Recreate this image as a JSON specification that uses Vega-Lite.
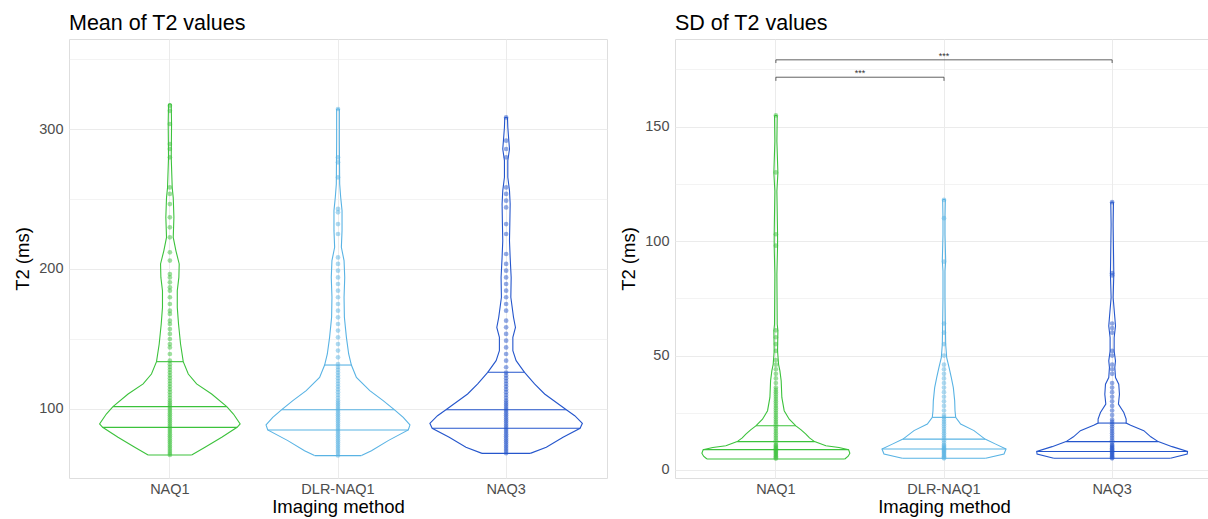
{
"$schema": "https://vega.github.io/schema/vega-lite/v6.json",
"background": "white",
"padding": {"left": 13, "top": 12, "right": 0, "bottom": 0},
"spacing": 11,
"config": {
 "font": "Liberation Sans",
 "view": {"stroke": "#dedede", "strokeWidth": 1},
 "axis": {"domain": false, "ticks": false, "gridColor": "#ebebeb", "labelColor": "#4d4d4d", "labelFontSize": 14.5, "titleFontSize": 18.5, "titleFontWeight": "normal", "titleColor": "#000000"},
 "title": {"fontSize": 21.5, "fontWeight": "normal", "anchor": "start", "frame": "group", "color": "#000000"}
},
"datasets": {
"vm": [
{"m":"NAQ1","s":"o","v":67.1,"l":-0.259,"r":0.259,"c":1},
{"m":"NAQ1","s":"o","v":72.6,"l":-0.418,"r":0.418},
{"m":"NAQ1","s":"o","v":79.8,"l":-0.617,"r":0.617},
{"m":"NAQ1","s":"o","v":86.9,"l":-0.8,"r":0.8},
{"m":"NAQ1","s":"o","v":89.3,"l":-0.836,"r":0.836},
{"m":"NAQ1","s":"o","v":96.4,"l":-0.756,"r":0.756},
{"m":"NAQ1","s":"o","v":101.7,"l":-0.677,"r":0.677},
{"m":"NAQ1","s":"o","v":110.7,"l":-0.497,"r":0.497},
{"m":"NAQ1","s":"o","v":117.9,"l":-0.318,"r":0.318},
{"m":"NAQ1","s":"o","v":125,"l":-0.219,"r":0.219},
{"m":"NAQ1","s":"o","v":133.8,"l":-0.159,"r":0.159},
{"m":"NAQ1","s":"o","v":146.4,"l":-0.127,"r":0.127},
{"m":"NAQ1","s":"o","v":160.7,"l":-0.103,"r":0.103},
{"m":"NAQ1","s":"o","v":172.6,"l":-0.088,"r":0.088},
{"m":"NAQ1","s":"o","v":184.5,"l":-0.088,"r":0.088},
{"m":"NAQ1","s":"o","v":194,"l":-0.107,"r":0.107},
{"m":"NAQ1","s":"o","v":203.6,"l":-0.111,"r":0.111},
{"m":"NAQ1","s":"o","v":213,"l":-0.072,"r":0.072},
{"m":"NAQ1","s":"o","v":222.6,"l":-0.04,"r":0.04},
{"m":"NAQ1","s":"o","v":236.9,"l":-0.048,"r":0.048},
{"m":"NAQ1","s":"o","v":251,"l":-0.04,"r":0.04},
{"m":"NAQ1","s":"o","v":258,"l":-0.028,"r":0.028},
{"m":"NAQ1","s":"o","v":279.8,"l":-0.016,"r":0.016},
{"m":"NAQ1","s":"o","v":303.6,"l":-0.02,"r":0.02},
{"m":"NAQ1","s":"o","v":317.9,"l":-0.016,"r":0.016,"c":1},
{"m":"NAQ1","s":"q","v":86.9,"l":-0.8,"r":0.8},
{"m":"NAQ1","s":"q","v":101.7,"l":-0.677,"r":0.677},
{"m":"NAQ1","s":"q","v":133.8,"l":-0.159,"r":0.159},
{"m":"DLR-NAQ1","s":"o","v":66.7,"l":-0.279,"r":0.279,"c":1},
{"m":"DLR-NAQ1","s":"o","v":70.2,"l":-0.398,"r":0.398},
{"m":"DLR-NAQ1","s":"o","v":77.4,"l":-0.597,"r":0.597},
{"m":"DLR-NAQ1","s":"o","v":85,"l":-0.836,"r":0.836},
{"m":"DLR-NAQ1","s":"o","v":88.6,"l":-0.856,"r":0.856},
{"m":"DLR-NAQ1","s":"o","v":94,"l":-0.776,"r":0.776},
{"m":"DLR-NAQ1","s":"o","v":99.5,"l":-0.669,"r":0.669},
{"m":"DLR-NAQ1","s":"o","v":106,"l":-0.537,"r":0.537},
{"m":"DLR-NAQ1","s":"o","v":113.1,"l":-0.378,"r":0.378},
{"m":"DLR-NAQ1","s":"o","v":122.6,"l":-0.219,"r":0.219},
{"m":"DLR-NAQ1","s":"o","v":131.4,"l":-0.159,"r":0.159},
{"m":"DLR-NAQ1","s":"o","v":139.3,"l":-0.127,"r":0.127},
{"m":"DLR-NAQ1","s":"o","v":151.2,"l":-0.1,"r":0.1},
{"m":"DLR-NAQ1","s":"o","v":165.5,"l":-0.076,"r":0.076},
{"m":"DLR-NAQ1","s":"o","v":179.8,"l":-0.072,"r":0.072},
{"m":"DLR-NAQ1","s":"o","v":194,"l":-0.08,"r":0.08},
{"m":"DLR-NAQ1","s":"o","v":206,"l":-0.072,"r":0.072},
{"m":"DLR-NAQ1","s":"o","v":215.5,"l":-0.04,"r":0.04},
{"m":"DLR-NAQ1","s":"o","v":227.4,"l":-0.048,"r":0.048},
{"m":"DLR-NAQ1","s":"o","v":241.7,"l":-0.048,"r":0.048},
{"m":"DLR-NAQ1","s":"o","v":251.2,"l":-0.032,"r":0.032},
{"m":"DLR-NAQ1","s":"o","v":260.7,"l":-0.02,"r":0.02},
{"m":"DLR-NAQ1","s":"o","v":291.7,"l":-0.016,"r":0.016},
{"m":"DLR-NAQ1","s":"o","v":314.3,"l":-0.016,"r":0.016,"c":1},
{"m":"DLR-NAQ1","s":"q","v":85,"l":-0.836,"r":0.836},
{"m":"DLR-NAQ1","s":"q","v":99.5,"l":-0.669,"r":0.669},
{"m":"DLR-NAQ1","s":"q","v":131.4,"l":-0.159,"r":0.159},
{"m":"NAQ3","s":"o","v":68.3,"l":-0.287,"r":0.287,"c":1},
{"m":"NAQ3","s":"o","v":72.6,"l":-0.478,"r":0.478},
{"m":"NAQ3","s":"o","v":79.8,"l":-0.677,"r":0.677},
{"m":"NAQ3","s":"o","v":86.2,"l":-0.88,"r":0.88},
{"m":"NAQ3","s":"o","v":89.8,"l":-0.907,"r":0.907},
{"m":"NAQ3","s":"o","v":95.2,"l":-0.816,"r":0.816},
{"m":"NAQ3","s":"o","v":99.5,"l":-0.716,"r":0.716},
{"m":"NAQ3","s":"o","v":110.7,"l":-0.458,"r":0.458},
{"m":"NAQ3","s":"o","v":117.9,"l":-0.338,"r":0.338},
{"m":"NAQ3","s":"o","v":126.2,"l":-0.219,"r":0.219},
{"m":"NAQ3","s":"o","v":134.5,"l":-0.119,"r":0.119},
{"m":"NAQ3","s":"o","v":141.7,"l":-0.08,"r":0.08},
{"m":"NAQ3","s":"o","v":151.2,"l":-0.08,"r":0.08},
{"m":"NAQ3","s":"o","v":158.3,"l":-0.111,"r":0.111},
{"m":"NAQ3","s":"o","v":165.5,"l":-0.088,"r":0.088},
{"m":"NAQ3","s":"o","v":179.8,"l":-0.056,"r":0.056},
{"m":"NAQ3","s":"o","v":194,"l":-0.06,"r":0.06},
{"m":"NAQ3","s":"o","v":208.3,"l":-0.048,"r":0.048},
{"m":"NAQ3","s":"o","v":220.2,"l":-0.04,"r":0.04},
{"m":"NAQ3","s":"o","v":232.1,"l":-0.044,"r":0.044},
{"m":"NAQ3","s":"o","v":246.4,"l":-0.048,"r":0.048},
{"m":"NAQ3","s":"o","v":256,"l":-0.04,"r":0.04},
{"m":"NAQ3","s":"o","v":265.5,"l":-0.02,"r":0.02},
{"m":"NAQ3","s":"o","v":277.4,"l":-0.02,"r":0.02},
{"m":"NAQ3","s":"o","v":285.7,"l":-0.04,"r":0.04},
{"m":"NAQ3","s":"o","v":291.7,"l":-0.032,"r":0.032},
{"m":"NAQ3","s":"o","v":301.2,"l":-0.02,"r":0.02},
{"m":"NAQ3","s":"o","v":308.3,"l":-0.016,"r":0.016,"c":1},
{"m":"NAQ3","s":"q","v":86.2,"l":-0.88,"r":0.88},
{"m":"NAQ3","s":"q","v":99.5,"l":-0.716,"r":0.716},
{"m":"NAQ3","s":"q","v":126.2,"l":-0.219,"r":0.219}
],
"vs": [
{"m":"NAQ1","s":"o","v":4.8,"l":-0.82,"r":0.82,"c":1},
{"m":"NAQ1","s":"o","v":6.0,"l":-0.86,"r":0.86},
{"m":"NAQ1","s":"o","v":7.3,"l":-0.88,"r":0.88},
{"m":"NAQ1","s":"o","v":8.9,"l":-0.865,"r":0.865},
{"m":"NAQ1","s":"o","v":9.8,"l":-0.75,"r":0.75},
{"m":"NAQ1","s":"o","v":10.6,"l":-0.595,"r":0.595},
{"m":"NAQ1","s":"o","v":12.4,"l":-0.46,"r":0.46},
{"m":"NAQ1","s":"o","v":14,"l":-0.4,"r":0.4},
{"m":"NAQ1","s":"o","v":15.7,"l":-0.357,"r":0.357},
{"m":"NAQ1","s":"o","v":17.5,"l":-0.3,"r":0.3},
{"m":"NAQ1","s":"o","v":19.3,"l":-0.238,"r":0.238},
{"m":"NAQ1","s":"o","v":22.2,"l":-0.159,"r":0.159},
{"m":"NAQ1","s":"o","v":25.9,"l":-0.099,"r":0.099},
{"m":"NAQ1","s":"o","v":31.7,"l":-0.071,"r":0.071},
{"m":"NAQ1","s":"o","v":39,"l":-0.063,"r":0.063},
{"m":"NAQ1","s":"o","v":43.3,"l":-0.048,"r":0.048},
{"m":"NAQ1","s":"o","v":46.2,"l":-0.032,"r":0.032},
{"m":"NAQ1","s":"o","v":52,"l":-0.02,"r":0.02},
{"m":"NAQ1","s":"o","v":60.8,"l":-0.024,"r":0.024},
{"m":"NAQ1","s":"o","v":63.7,"l":-0.016,"r":0.016},
{"m":"NAQ1","s":"o","v":85.5,"l":-0.012,"r":0.012},
{"m":"NAQ1","s":"o","v":97.8,"l":-0.02,"r":0.02},
{"m":"NAQ1","s":"o","v":102.9,"l":-0.02,"r":0.02},
{"m":"NAQ1","s":"o","v":121.8,"l":-0.012,"r":0.012},
{"m":"NAQ1","s":"o","v":129.8,"l":-0.024,"r":0.024},
{"m":"NAQ1","s":"o","v":143.6,"l":-0.012,"r":0.012},
{"m":"NAQ1","s":"o","v":154.9,"l":-0.016,"r":0.016,"c":1},
{"m":"NAQ1","s":"q","v":8.9,"l":-0.865,"r":0.865},
{"m":"NAQ1","s":"q","v":12.4,"l":-0.46,"r":0.46},
{"m":"NAQ1","s":"q","v":19.3,"l":-0.238,"r":0.238},
{"m":"DLR-NAQ1","s":"o","v":5.1,"l":-0.496,"r":0.496,"c":1},
{"m":"DLR-NAQ1","s":"o","v":7,"l":-0.714,"r":0.714},
{"m":"DLR-NAQ1","s":"o","v":9.2,"l":-0.738,"r":0.738},
{"m":"DLR-NAQ1","s":"o","v":11.3,"l":-0.615,"r":0.615},
{"m":"DLR-NAQ1","s":"o","v":13.5,"l":-0.488,"r":0.488},
{"m":"DLR-NAQ1","s":"o","v":17.2,"l":-0.357,"r":0.357},
{"m":"DLR-NAQ1","s":"o","v":20.1,"l":-0.198,"r":0.198},
{"m":"DLR-NAQ1","s":"o","v":23,"l":-0.139,"r":0.139},
{"m":"DLR-NAQ1","s":"o","v":25.9,"l":-0.131,"r":0.131},
{"m":"DLR-NAQ1","s":"o","v":30.2,"l":-0.127,"r":0.127},
{"m":"DLR-NAQ1","s":"o","v":36,"l":-0.111,"r":0.111},
{"m":"DLR-NAQ1","s":"o","v":40.4,"l":-0.087,"r":0.087},
{"m":"DLR-NAQ1","s":"o","v":44.8,"l":-0.06,"r":0.06},
{"m":"DLR-NAQ1","s":"o","v":49.1,"l":-0.032,"r":0.032},
{"m":"DLR-NAQ1","s":"o","v":54.9,"l":-0.02,"r":0.02},
{"m":"DLR-NAQ1","s":"o","v":63.7,"l":-0.016,"r":0.016},
{"m":"DLR-NAQ1","s":"o","v":75.3,"l":-0.012,"r":0.012},
{"m":"DLR-NAQ1","s":"o","v":86.9,"l":-0.012,"r":0.012},
{"m":"DLR-NAQ1","s":"o","v":91.3,"l":-0.02,"r":0.02},
{"m":"DLR-NAQ1","s":"o","v":102.9,"l":-0.012,"r":0.012},
{"m":"DLR-NAQ1","s":"o","v":110.2,"l":-0.012,"r":0.012},
{"m":"DLR-NAQ1","s":"o","v":118.2,"l":-0.016,"r":0.016,"c":1},
{"m":"DLR-NAQ1","s":"q","v":9.2,"l":-0.738,"r":0.738},
{"m":"DLR-NAQ1","s":"q","v":13.5,"l":-0.488,"r":0.488},
{"m":"DLR-NAQ1","s":"q","v":23,"l":-0.139,"r":0.139},
{"m":"NAQ3","s":"o","v":5.1,"l":-0.694,"r":0.694,"c":1},
{"m":"NAQ3","s":"o","v":7,"l":-0.893,"r":0.893},
{"m":"NAQ3","s":"o","v":8.1,"l":-0.897,"r":0.897},
{"m":"NAQ3","s":"o","v":10.2,"l":-0.714,"r":0.714},
{"m":"NAQ3","s":"o","v":12.4,"l":-0.548,"r":0.548},
{"m":"NAQ3","s":"o","v":14.5,"l":-0.46,"r":0.46},
{"m":"NAQ3","s":"o","v":17.2,"l":-0.377,"r":0.377},
{"m":"NAQ3","s":"o","v":19.5,"l":-0.22,"r":0.22},
{"m":"NAQ3","s":"o","v":20.5,"l":-0.167,"r":0.167},
{"m":"NAQ3","s":"o","v":22.2,"l":-0.167,"r":0.167},
{"m":"NAQ3","s":"o","v":25.1,"l":-0.139,"r":0.139},
{"m":"NAQ3","s":"o","v":28.8,"l":-0.075,"r":0.075},
{"m":"NAQ3","s":"o","v":33.1,"l":-0.087,"r":0.087},
{"m":"NAQ3","s":"o","v":37.5,"l":-0.079,"r":0.079},
{"m":"NAQ3","s":"o","v":40.4,"l":-0.04,"r":0.04},
{"m":"NAQ3","s":"o","v":44.8,"l":-0.032,"r":0.032},
{"m":"NAQ3","s":"o","v":47.7,"l":-0.04,"r":0.04},
{"m":"NAQ3","s":"o","v":52,"l":-0.024,"r":0.024},
{"m":"NAQ3","s":"o","v":57.8,"l":-0.024,"r":0.024},
{"m":"NAQ3","s":"o","v":62.9,"l":-0.04,"r":0.04},
{"m":"NAQ3","s":"o","v":66.6,"l":-0.032,"r":0.032},
{"m":"NAQ3","s":"o","v":75.3,"l":-0.012,"r":0.012},
{"m":"NAQ3","s":"o","v":85.5,"l":-0.02,"r":0.02},
{"m":"NAQ3","s":"o","v":107.3,"l":-0.012,"r":0.012},
{"m":"NAQ3","s":"o","v":117,"l":-0.016,"r":0.016,"c":1},
{"m":"NAQ3","s":"q","v":8.1,"l":-0.897,"r":0.897},
{"m":"NAQ3","s":"q","v":12.4,"l":-0.548,"r":0.548},
{"m":"NAQ3","s":"q","v":20.5,"l":-0.167,"r":0.167}
],
"dm": [
{"m":"NAQ1","v":316.7},{"m":"NAQ1","v":313},{"m":"NAQ1","v":303.6},{"m":"NAQ1","v":289.3},{"m":"NAQ1","v":285.7},{"m":"NAQ1","v":279.8},{"m":"NAQ1","v":258.3},{"m":"NAQ1","v":253.6},{"m":"NAQ1","v":246.4},{"m":"NAQ1","v":236.9},{"m":"NAQ1","v":229.8},{"m":"NAQ1","v":222.6},{"m":"NAQ1","v":211.9},{"m":"NAQ1","v":206},{"m":"NAQ1","v":196.4},{"m":"NAQ1","v":194},{"m":"NAQ1","v":190.5},{"m":"NAQ1","v":186.9},{"m":"NAQ1","v":184.5},{"m":"NAQ1","v":179.8},{"m":"NAQ1","v":175},{"m":"NAQ1","v":170.2},{"m":"NAQ1","v":167.9},{"m":"NAQ1","v":163.1},{"m":"NAQ1","v":160.7},{"m":"NAQ1","v":157.1},{"m":"NAQ1","v":153.6},{"m":"NAQ1","v":150},{"m":"NAQ1","v":146.4},{"m":"NAQ1","v":144},{"m":"NAQ1","v":139.3},{"m":"NAQ1","v":134.5},{"m":"NAQ1","v":132},{"m":"NAQ1","v":130},{"m":"NAQ1","v":128},{"m":"NAQ1","v":126},{"m":"NAQ1","v":124},{"m":"NAQ1","v":122},{"m":"NAQ1","v":120},{"m":"NAQ1","v":118},{"m":"NAQ1","v":116},{"m":"NAQ1","v":114},{"m":"NAQ1","v":112},{"m":"NAQ1","v":110},{"m":"NAQ1","v":108},{"m":"NAQ1","v":106},{"m":"NAQ1","v":104.5},{"m":"NAQ1","v":103},{"m":"NAQ1","v":101.5},{"m":"NAQ1","v":100},{"m":"NAQ1","v":98.5},{"m":"NAQ1","v":97},{"m":"NAQ1","v":95.5},{"m":"NAQ1","v":94},{"m":"NAQ1","v":92.5},{"m":"NAQ1","v":91},{"m":"NAQ1","v":89.5},{"m":"NAQ1","v":88},{"m":"NAQ1","v":86.5},{"m":"NAQ1","v":85},{"m":"NAQ1","v":83.5},{"m":"NAQ1","v":82},{"m":"NAQ1","v":80.5},{"m":"NAQ1","v":79},{"m":"NAQ1","v":77.5},{"m":"NAQ1","v":76},{"m":"NAQ1","v":74.5},{"m":"NAQ1","v":73},{"m":"NAQ1","v":71.5},{"m":"NAQ1","v":70},{"m":"NAQ1","v":68.5},{"m":"NAQ1","v":67.2},
{"m":"DLR-NAQ1","v":314.3},{"m":"DLR-NAQ1","v":279.8},{"m":"DLR-NAQ1","v":276.2},{"m":"DLR-NAQ1","v":265.5},{"m":"DLR-NAQ1","v":242.9},{"m":"DLR-NAQ1","v":240.5},{"m":"DLR-NAQ1","v":232.1},{"m":"DLR-NAQ1","v":225},{"m":"DLR-NAQ1","v":208.3},{"m":"DLR-NAQ1","v":203.6},{"m":"DLR-NAQ1","v":198.8},{"m":"DLR-NAQ1","v":194},{"m":"DLR-NAQ1","v":189.3},{"m":"DLR-NAQ1","v":184.5},{"m":"DLR-NAQ1","v":179.8},{"m":"DLR-NAQ1","v":175},{"m":"DLR-NAQ1","v":170.2},{"m":"DLR-NAQ1","v":165.5},{"m":"DLR-NAQ1","v":160.7},{"m":"DLR-NAQ1","v":156},{"m":"DLR-NAQ1","v":151.2},{"m":"DLR-NAQ1","v":146.4},{"m":"DLR-NAQ1","v":141.7},{"m":"DLR-NAQ1","v":136.9},{"m":"DLR-NAQ1","v":132.1},{"m":"DLR-NAQ1","v":130},{"m":"DLR-NAQ1","v":128},{"m":"DLR-NAQ1","v":126},{"m":"DLR-NAQ1","v":124},{"m":"DLR-NAQ1","v":122},{"m":"DLR-NAQ1","v":120},{"m":"DLR-NAQ1","v":118},{"m":"DLR-NAQ1","v":116},{"m":"DLR-NAQ1","v":114},{"m":"DLR-NAQ1","v":112},{"m":"DLR-NAQ1","v":110},{"m":"DLR-NAQ1","v":108},{"m":"DLR-NAQ1","v":106},{"m":"DLR-NAQ1","v":104.5},{"m":"DLR-NAQ1","v":103},{"m":"DLR-NAQ1","v":101.5},{"m":"DLR-NAQ1","v":100},{"m":"DLR-NAQ1","v":98.5},{"m":"DLR-NAQ1","v":97},{"m":"DLR-NAQ1","v":95.5},{"m":"DLR-NAQ1","v":94},{"m":"DLR-NAQ1","v":92.5},{"m":"DLR-NAQ1","v":91},{"m":"DLR-NAQ1","v":89.5},{"m":"DLR-NAQ1","v":88},{"m":"DLR-NAQ1","v":86.5},{"m":"DLR-NAQ1","v":85},{"m":"DLR-NAQ1","v":83.5},{"m":"DLR-NAQ1","v":82},{"m":"DLR-NAQ1","v":80.5},{"m":"DLR-NAQ1","v":79},{"m":"DLR-NAQ1","v":77.5},{"m":"DLR-NAQ1","v":76},{"m":"DLR-NAQ1","v":74.5},{"m":"DLR-NAQ1","v":73},{"m":"DLR-NAQ1","v":71.5},{"m":"DLR-NAQ1","v":70},{"m":"DLR-NAQ1","v":68.5},{"m":"DLR-NAQ1","v":66.8},
{"m":"NAQ3","v":308.3},{"m":"NAQ3","v":291.7},{"m":"NAQ3","v":285.7},{"m":"NAQ3","v":279.8},{"m":"NAQ3","v":258.3},{"m":"NAQ3","v":253.6},{"m":"NAQ3","v":248.8},{"m":"NAQ3","v":244},{"m":"NAQ3","v":232.1},{"m":"NAQ3","v":225},{"m":"NAQ3","v":210.7},{"m":"NAQ3","v":203.6},{"m":"NAQ3","v":198.8},{"m":"NAQ3","v":194},{"m":"NAQ3","v":189.3},{"m":"NAQ3","v":184.5},{"m":"NAQ3","v":179.8},{"m":"NAQ3","v":175},{"m":"NAQ3","v":170.2},{"m":"NAQ3","v":163.1},{"m":"NAQ3","v":158.3},{"m":"NAQ3","v":153.6},{"m":"NAQ3","v":148.8},{"m":"NAQ3","v":144},{"m":"NAQ3","v":139.3},{"m":"NAQ3","v":134.5},{"m":"NAQ3","v":129.8},{"m":"NAQ3","v":126},{"m":"NAQ3","v":124},{"m":"NAQ3","v":122},{"m":"NAQ3","v":120},{"m":"NAQ3","v":118},{"m":"NAQ3","v":116},{"m":"NAQ3","v":114},{"m":"NAQ3","v":112},{"m":"NAQ3","v":110},{"m":"NAQ3","v":108},{"m":"NAQ3","v":106},{"m":"NAQ3","v":104.5},{"m":"NAQ3","v":103},{"m":"NAQ3","v":101.5},{"m":"NAQ3","v":100},{"m":"NAQ3","v":98.5},{"m":"NAQ3","v":97},{"m":"NAQ3","v":95.5},{"m":"NAQ3","v":94},{"m":"NAQ3","v":92.5},{"m":"NAQ3","v":91},{"m":"NAQ3","v":89.5},{"m":"NAQ3","v":88},{"m":"NAQ3","v":86.5},{"m":"NAQ3","v":85},{"m":"NAQ3","v":83.5},{"m":"NAQ3","v":82},{"m":"NAQ3","v":80.5},{"m":"NAQ3","v":79},{"m":"NAQ3","v":77.5},{"m":"NAQ3","v":76},{"m":"NAQ3","v":74.5},{"m":"NAQ3","v":73},{"m":"NAQ3","v":71.5},{"m":"NAQ3","v":70},{"m":"NAQ3","v":68.4}
],
"ds": [
{"m":"NAQ1","v":154.9},{"m":"NAQ1","v":130},{"m":"NAQ1","v":103},{"m":"NAQ1","v":98},{"m":"NAQ1","v":61},{"m":"NAQ1","v":58},{"m":"NAQ1","v":55},{"m":"NAQ1","v":52},{"m":"NAQ1","v":48},{"m":"NAQ1","v":46},{"m":"NAQ1","v":44},{"m":"NAQ1","v":42},{"m":"NAQ1","v":40},{"m":"NAQ1","v":38},{"m":"NAQ1","v":36},{"m":"NAQ1","v":35},{"m":"NAQ1","v":34},{"m":"NAQ1","v":33},{"m":"NAQ1","v":32},{"m":"NAQ1","v":31},{"m":"NAQ1","v":30},{"m":"NAQ1","v":29},{"m":"NAQ1","v":28},{"m":"NAQ1","v":27},{"m":"NAQ1","v":26},{"m":"NAQ1","v":25},{"m":"NAQ1","v":24},{"m":"NAQ1","v":23},{"m":"NAQ1","v":22},{"m":"NAQ1","v":21},{"m":"NAQ1","v":20},{"m":"NAQ1","v":19},{"m":"NAQ1","v":18},{"m":"NAQ1","v":17},{"m":"NAQ1","v":16},{"m":"NAQ1","v":15},{"m":"NAQ1","v":14},{"m":"NAQ1","v":13},{"m":"NAQ1","v":12},{"m":"NAQ1","v":11},{"m":"NAQ1","v":10.5},{"m":"NAQ1","v":10},{"m":"NAQ1","v":9.5},{"m":"NAQ1","v":9},{"m":"NAQ1","v":8.5},{"m":"NAQ1","v":8},{"m":"NAQ1","v":7.5},{"m":"NAQ1","v":7},{"m":"NAQ1","v":6.5},{"m":"NAQ1","v":6},{"m":"NAQ1","v":5.5},{"m":"NAQ1","v":5},
{"m":"DLR-NAQ1","v":118},{"m":"DLR-NAQ1","v":110},{"m":"DLR-NAQ1","v":91},{"m":"DLR-NAQ1","v":64},{"m":"DLR-NAQ1","v":60},{"m":"DLR-NAQ1","v":55},{"m":"DLR-NAQ1","v":50},{"m":"DLR-NAQ1","v":46},{"m":"DLR-NAQ1","v":44},{"m":"DLR-NAQ1","v":42},{"m":"DLR-NAQ1","v":40},{"m":"DLR-NAQ1","v":38},{"m":"DLR-NAQ1","v":36},{"m":"DLR-NAQ1","v":34},{"m":"DLR-NAQ1","v":32},{"m":"DLR-NAQ1","v":30},{"m":"DLR-NAQ1","v":28},{"m":"DLR-NAQ1","v":26},{"m":"DLR-NAQ1","v":24},{"m":"DLR-NAQ1","v":23},{"m":"DLR-NAQ1","v":22},{"m":"DLR-NAQ1","v":21},{"m":"DLR-NAQ1","v":20},{"m":"DLR-NAQ1","v":19},{"m":"DLR-NAQ1","v":18},{"m":"DLR-NAQ1","v":17},{"m":"DLR-NAQ1","v":16},{"m":"DLR-NAQ1","v":15},{"m":"DLR-NAQ1","v":14},{"m":"DLR-NAQ1","v":13},{"m":"DLR-NAQ1","v":12},{"m":"DLR-NAQ1","v":11},{"m":"DLR-NAQ1","v":10.5},{"m":"DLR-NAQ1","v":10},{"m":"DLR-NAQ1","v":9.5},{"m":"DLR-NAQ1","v":9},{"m":"DLR-NAQ1","v":8.5},{"m":"DLR-NAQ1","v":8},{"m":"DLR-NAQ1","v":7.5},{"m":"DLR-NAQ1","v":7},{"m":"DLR-NAQ1","v":6.5},{"m":"DLR-NAQ1","v":6},{"m":"DLR-NAQ1","v":5.5},{"m":"DLR-NAQ1","v":5.1},
{"m":"NAQ3","v":117},{"m":"NAQ3","v":86},{"m":"NAQ3","v":85},{"m":"NAQ3","v":64},{"m":"NAQ3","v":62},{"m":"NAQ3","v":60},{"m":"NAQ3","v":52},{"m":"NAQ3","v":50},{"m":"NAQ3","v":46},{"m":"NAQ3","v":44},{"m":"NAQ3","v":42},{"m":"NAQ3","v":38},{"m":"NAQ3","v":36},{"m":"NAQ3","v":34},{"m":"NAQ3","v":32},{"m":"NAQ3","v":30},{"m":"NAQ3","v":28},{"m":"NAQ3","v":26},{"m":"NAQ3","v":24},{"m":"NAQ3","v":22},{"m":"NAQ3","v":21},{"m":"NAQ3","v":20},{"m":"NAQ3","v":19},{"m":"NAQ3","v":18},{"m":"NAQ3","v":17},{"m":"NAQ3","v":16},{"m":"NAQ3","v":15},{"m":"NAQ3","v":14},{"m":"NAQ3","v":13},{"m":"NAQ3","v":12},{"m":"NAQ3","v":11},{"m":"NAQ3","v":10.5},{"m":"NAQ3","v":10},{"m":"NAQ3","v":9.5},{"m":"NAQ3","v":9},{"m":"NAQ3","v":8.5},{"m":"NAQ3","v":8},{"m":"NAQ3","v":7.5},{"m":"NAQ3","v":7},{"m":"NAQ3","v":6.5},{"m":"NAQ3","v":6},{"m":"NAQ3","v":5.5},{"m":"NAQ3","v":5.1}
],
"br": [
{"m":"NAQ1","b":"DLR-NAQ1","v":171.6,"v0":170.0,"t":"***","to":1},
{"m":"NAQ1","b":"NAQ3","v":179.2,"v0":177.8,"t":"***","to":2}
]
},
"hconcat": [
{
"width": 538, "height": 439,
"title": {"text": "Mean of T2 values", "offset": -17, "baseline": "bottom"},
"encoding": {
 "x": {"field": "m", "type": "nominal", "title": "Imaging method", "scale": {"domain": ["NAQ1","DLR-NAQ1","NAQ3"], "paddingInner": 0, "paddingOuter": 0.1}, "axis": {"labelAngle": 0, "grid": true, "bandPosition": 0.5, "labelPadding": 4, "titlePadding": 2}},
 "y": {"field": "v", "type": "quantitative", "title": "T2 (ms)", "scale": {"domain": [50.7, 364.3], "nice": false, "zero": false}, "axis": {"values": [100,150,200,250,300,350], "labelExpr": "datum.value % 100 === 0 ? datum.label : ''", "gridWidth": {"condition": {"test": "datum.value % 100 === 0", "value": 1}, "value": 0.6}, "labelPadding": 6, "titlePadding": 6}},
 "color": {"field": "m", "type": "nominal", "scale": {"domain": ["NAQ1","DLR-NAQ1","NAQ3"], "range": ["#3cc23c","#59b3e4","#2556cc"]}, "legend": null}
},
"layer": [
 {"data": {"name": "vm"}, "transform": [{"filter": "datum.s == 'o'"}, {"fold": ["l","r"], "as": ["side","ox"]}], "mark": {"type": "line", "strokeWidth": 1.1}, "encoding": {"xOffset": {"field": "ox", "type": "quantitative", "scale": {"domain": [-1, 1]}}, "detail": {"field": "side", "type": "nominal"}, "order": {"field": "v", "type": "quantitative"}}},
 {"data": {"name": "vm"}, "transform": [{"filter": "datum.s == 'q' || datum.c == 1"}, {"fold": ["l","r"], "as": ["side","ox"]}], "mark": {"type": "line", "strokeWidth": 1.1}, "encoding": {"xOffset": {"field": "ox", "type": "quantitative", "scale": {"domain": [-1, 1]}}, "detail": [{"field": "s", "type": "nominal"}, {"field": "v", "type": "nominal"}], "order": {"field": "ox", "type": "quantitative"}}},
 {"data": {"name": "dm"}, "mark": {"type": "circle", "size": 22, "opacity": 0.5}}
]
},
{
"width": 538, "height": 439,
"title": {"text": "SD of T2 values", "offset": -17, "baseline": "bottom"},
"encoding": {
 "x": {"field": "m", "type": "nominal", "title": "Imaging method", "scale": {"domain": ["NAQ1","DLR-NAQ1","NAQ3"], "paddingInner": 0, "paddingOuter": 0.1}, "axis": {"labelAngle": 0, "grid": true, "bandPosition": 0.5, "labelPadding": 4, "titlePadding": 2}},
 "y": {"field": "v", "type": "quantitative", "title": "T2 (ms)", "scale": {"domain": [-3.5, 188.3], "nice": false, "zero": false}, "axis": {"values": [0,25,50,75,100,125,150,175], "labelExpr": "datum.value % 50 === 0 ? datum.label : ''", "gridWidth": {"condition": {"test": "datum.value % 50 === 0", "value": 1}, "value": 0.6}, "labelPadding": 6, "titlePadding": 6}},
 "color": {"field": "m", "type": "nominal", "scale": {"domain": ["NAQ1","DLR-NAQ1","NAQ3"], "range": ["#3cc23c","#59b3e4","#2556cc"]}, "legend": null}
},
"layer": [
 {"data": {"name": "vs"}, "transform": [{"filter": "datum.s == 'o'"}, {"fold": ["l","r"], "as": ["side","ox"]}], "mark": {"type": "line", "strokeWidth": 1.1}, "encoding": {"xOffset": {"field": "ox", "type": "quantitative", "scale": {"domain": [-1, 1]}}, "detail": {"field": "side", "type": "nominal"}, "order": {"field": "v", "type": "quantitative"}}},
 {"data": {"name": "vs"}, "transform": [{"filter": "datum.s == 'q' || datum.c == 1"}, {"fold": ["l","r"], "as": ["side","ox"]}], "mark": {"type": "line", "strokeWidth": 1.1}, "encoding": {"xOffset": {"field": "ox", "type": "quantitative", "scale": {"domain": [-1, 1]}}, "detail": [{"field": "s", "type": "nominal"}, {"field": "v", "type": "nominal"}], "order": {"field": "ox", "type": "quantitative"}}},
 {"data": {"name": "ds"}, "mark": {"type": "circle", "size": 22, "opacity": 0.5}},
 {"data": {"name": "br"}, "mark": {"type": "rule", "strokeWidth": 0.8}, "encoding": {"x2": {"field": "b"}, "color": {"value": "#3a3a3a"}}},
 {"data": {"name": "br"}, "transform": [{"fold": ["m","b"], "as": ["end","m"]}], "mark": {"type": "rule", "strokeWidth": 0.8}, "encoding": {"y2": {"field": "v0"}, "color": {"value": "#3a3a3a"}}},
 {"data": {"name": "br"}, "mark": {"type": "text", "fontSize": 9, "baseline": "alphabetic", "dy": -1}, "encoding": {"text": {"field": "t"}, "xOffset": {"field": "to", "type": "quantitative", "scale": {"domain": [-1, 1]}}, "color": {"value": "#333333"}}}
]
}
]
}
